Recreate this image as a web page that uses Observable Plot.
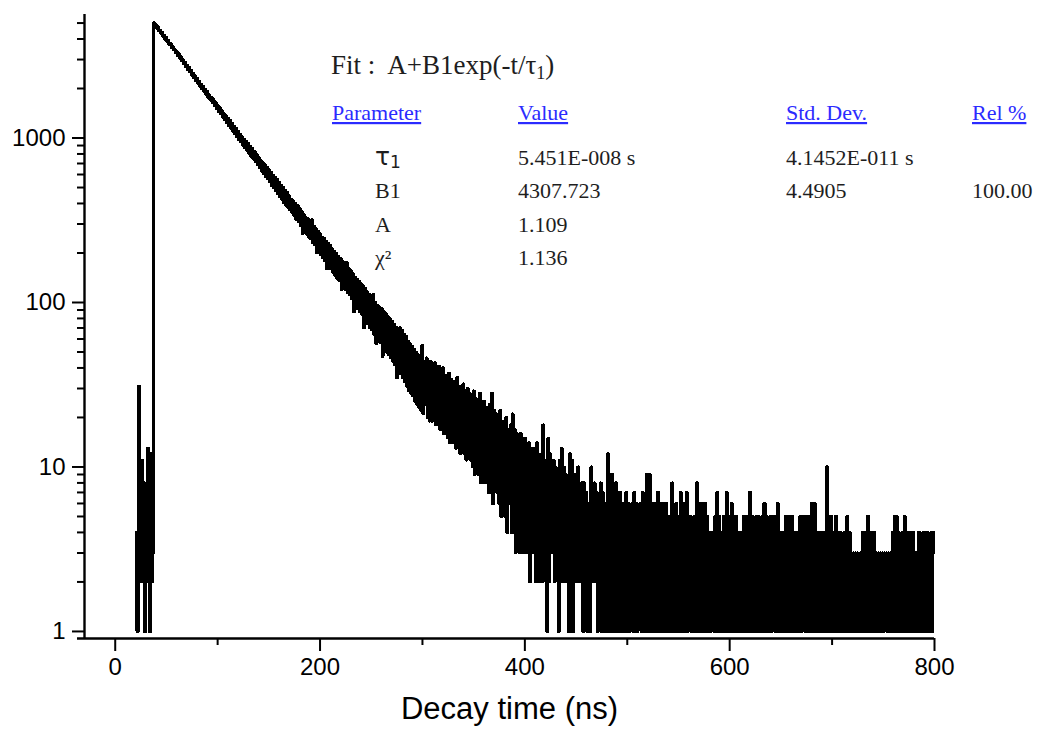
<!DOCTYPE html>
<html>
<head>
<meta charset="utf-8">
<script src="https://cdn.jsdelivr.net/npm/d3@7"></script>
<script src="https://cdn.jsdelivr.net/npm/@observablehq/plot@0.6"></script>
<style>
  html, body { margin: 0; padding: 0; background: #fff; }
  #chart { width: 1038px; height: 738px; }
</style>
</head>
<body>
<div id="chart"></div>
<script>
// ---- data (photon counts per 1 ns channel) ----
const channelStartNs = 20;
const channelWidthNs = 1;

// t = 20 .. 37 ns (before the excitation rise)
const countsRise = [1, 4, 1, 31, 10, 2, 11, 3, 8, 1, 6, 2, 13, 2, 1, 12, 2, 3];

// t = 38 .. 297 ns
const countsDecay = [
  5010, 4850, 4880, 4660, 4740, 4470, 4520, 4310, 4390, 4150,
  4190, 3980, 4070, 3850, 3900, 3690, 3770, 3550, 3620, 3430,
  3450, 3310, 3360, 3180, 3260, 3060, 3120, 2940, 2990, 2830,
  2880, 2720, 2770, 2610, 2680, 2520, 2570, 2410, 2480, 2330,
  2390, 2240, 2310, 2150, 2210, 2060, 2130, 1990, 2060, 1920,
  1980, 1840, 1910, 1760, 1830, 1700, 1770, 1640, 1710, 1580,
  1650, 1510, 1580, 1450, 1530, 1400, 1470, 1340, 1410, 1290,
  1370, 1240, 1320, 1190, 1280, 1150, 1230, 1100, 1180, 1060,
  1140, 1020, 1100, 975, 1050, 945, 1015, 905, 985, 870,
  950, 840, 925, 800, 890, 770, 860, 745, 830, 715,
  800, 690, 760, 660, 735, 630, 710, 605, 690, 585,
  665, 565, 640, 545, 620, 515, 595, 500, 575, 480,
  560, 460, 540, 440, 515, 425, 500, 405, 480, 390,
  465, 380, 445, 365, 425, 350, 415, 335, 400, 320,
  390, 310, 375, 295, 360, 262, 345, 270, 330, 260,
  325, 250, 310, 245, 318, 230, 290, 225, 280, 200,
  270, 205, 262, 195, 250, 188, 245, 180, 236, 160,
  228, 165, 222, 160, 212, 152, 205, 146, 198, 140,
  190, 136, 185, 120, 178, 125, 172, 120, 175, 115,
  160, 112, 156, 106, 150, 88, 142, 96, 138, 92,
  134, 88, 130, 85, 126, 70, 122, 78, 116, 74,
  112, 70, 108, 68, 112, 64, 100, 56, 96, 60,
  94, 57, 92, 47, 88, 53, 86, 50, 82, 48,
  80, 46, 77, 44, 74, 42, 71, 35, 68, 38,
  70, 37, 68, 35, 64, 33, 62, 31, 58, 29,
  56, 28, 54, 27, 52, 25, 50, 24, 48, 23
];

// t = 298 .. 800 ns
const countsTail = [
  48, 22, 55, 21, 44, 24, 46, 20, 42, 19,
  44, 19, 40, 21, 43, 18, 38, 20, 41, 17,
  38, 17, 40, 16, 36, 19, 35, 15, 37, 14,
  34, 16, 33, 14, 32, 13, 35, 15, 31, 12,
  30, 13, 32, 12, 29, 11, 30, 14, 28, 11,
  27, 10, 29, 9, 26, 12, 25, 9, 28, 8,
  24, 10, 25, 8, 23, 9, 22, 7, 24, 8,
  28, 6, 22, 8, 21, 7, 20, 6, 22, 5,
  19, 6, 18, 5, 20, 4, 17, 6, 18, 4,
  21, 4, 17, 3, 16, 5, 15, 3, 16, 4,
  14, 3, 15, 4, 13, 3, 14, 2, 12, 3,
  13, 3, 12, 2, 14, 2, 11, 3, 12, 2,
  18, 3, 11, 2, 1, 15, 2, 12, 3, 10,
  11, 2, 10, 3, 9, 1, 11, 2, 13, 3,
  10, 2, 9, 3, 8, 1, 12, 2, 11, 1,
  9, 2, 8, 3, 10, 2, 7, 3, 8, 1,
  8, 2, 7, 1, 6, 2, 1, 10, 2, 7,
  8, 2, 7, 1, 6, 2, 8, 1, 7, 1,
  6, 1, 5, 12, 1, 7, 1, 9, 1, 6,
  1, 8, 1, 6, 2, 7, 1, 5, 1, 6,
  1, 7, 1, 6, 1, 5, 2, 6, 1, 7,
  1, 6, 1, 5, 2, 6, 1, 7, 1, 5,
  1, 9, 1, 6, 9, 1, 5, 1, 6, 1,
  5, 1, 7, 1, 5, 1, 6, 1, 5, 1,
  6, 1, 5, 1, 4, 1, 8, 1, 5, 1,
  6, 1, 5, 1, 7, 1, 5, 1, 6, 1,
  7, 1, 5, 2, 5, 1, 4, 1, 5, 1,
  8, 1, 5, 1, 6, 1, 4, 1, 6, 1,
  5, 1, 4, 1, 4, 2, 4, 1, 5, 1,
  7, 1, 5, 1, 4, 1, 5, 1, 3, 7,
  1, 5, 1, 4, 6, 1, 5, 1, 5, 1,
  4, 1, 4, 2, 4, 1, 5, 1, 3, 1,
  5, 1, 7, 1, 5, 1, 4, 1, 5, 1,
  5, 1, 4, 1, 5, 1, 6, 1, 5, 1,
  4, 1, 5, 1, 5, 2, 5, 1, 4, 6,
  1, 4, 1, 4, 1, 4, 2, 5, 1, 4,
  1, 5, 1, 5, 1, 4, 1, 4, 1, 4,
  1, 5, 1, 5, 2, 5, 1, 5, 1, 5,
  1, 5, 6, 1, 5, 6, 1, 4, 1, 4,
  1, 4, 1, 3, 4, 1, 3, 10, 1, 3,
  1, 5, 1, 4, 1, 4, 5, 1, 4, 1,
  4, 1, 3, 1, 4, 1, 2, 5, 1, 4,
  1, 3, 1, 3, 1, 3, 1, 3, 2, 1,
  3, 1, 4, 1, 3, 4, 1, 5, 1, 3,
  1, 4, 1, 4, 1, 3, 1, 3, 1, 3,
  1, 3, 1, 3, 2, 3, 1, 3, 1, 3,
  1, 4, 1, 5, 1, 5, 1, 4, 1, 3,
  1, 4, 1, 5, 1, 3, 1, 4, 1, 3,
  1, 4, 1, 3, 1, 3, 1, 4, 1, 3,
  1, 4, 1, 4, 1, 4, 1, 3, 1, 4,
  1, 3, 4
];

// axes
const xDomain = [-30, 800];
const yDomain = [0.906, 5636];
const xMajorTicks = [0, 200, 400, 600, 800];
const xMinorTicks = [100, 300, 500, 700];
const yMajorTicks = [1, 10, 100, 1000];
const yMinorTicks = [2, 3, 4, 5, 6, 7, 8, 9, 20, 30, 40, 50, 60, 70, 80, 90,
  200, 300, 400, 500, 600, 700, 800, 900, 2000, 3000, 4000, 5000];
const xLabel = "Decay time (ns)";

// fit report
const fitTitle = "Fit :  A+B1exp(-t/τ";
const fitHeaders = ["Parameter", "Value", "Std. Dev.", "Rel %"];
const paramNames = ["τ", "B1", "A", "χ²"];
const paramValues = ["5.451E-008 s", "4307.723", "1.109", "1.136"];
const paramStdDev = ["4.1452E-011 s", "4.4905", "", ""];
const paramRel = ["", "100.00", "", ""];

// ---- build ----
const counts = [...countsRise, ...countsDecay, ...countsTail];
const data = counts.map((c, i) => ({ t: channelStartNs + i * channelWidthNs, c }));
const noLabel = () => "";

const chart = Plot.plot({
  width: 1038,
  height: 738,
  marginTop: 14,
  marginBottom: 100,
  marginLeft: 84,
  marginRight: 104,
  x: { domain: xDomain, axis: null },
  y: { type: "log", domain: yDomain, axis: null },
  style: { background: "white", color: "black", fontFamily: "'Liberation Sans', Arial, sans-serif" },
  marks: [
    Plot.line(data, { x: "t", y: "c", stroke: "black", strokeWidth: 3, curve: "step", strokeLinejoin: "round", strokeLinecap: "butt", shapeRendering: "crispEdges" }),
    Plot.ruleX([xDomain[0]], { stroke: "black", strokeWidth: 2.4 }),
    Plot.ruleY([yDomain[0]], { stroke: "black", strokeWidth: 2.4, insetLeft: -7 }),
    Plot.axisY(yMajorTicks, { tickSize: 12, tickPadding: 7, strokeWidth: 2, fontSize: 24, fill: "black", tickFormat: d => String(d), label: null }),
    Plot.axisY(yMinorTicks, { tickSize: 7, strokeWidth: 2, tickFormat: noLabel, label: null }),
    Plot.axisX(xMajorTicks, { tickSize: 13, tickPadding: 6, strokeWidth: 2, fontSize: 24, fill: "black", tickFormat: d => String(d), label: null }),
    Plot.axisX(xMinorTicks, { tickSize: 7, strokeWidth: 2, tickFormat: noLabel, label: null }),
    Plot.text([xLabel], { frameAnchor: "bottom", dy: 80, fontSize: 31, fill: "black" })
  ]
});
document.getElementById("chart").appendChild(chart);

// ---- fit report annotation ----
const svg = d3.select(chart);
const ann = svg.append("g")
  .attr("font-family", "'Liberation Serif', 'Times New Roman', serif")
  .attr("text-anchor", "start")
  .attr("fill", "#1e1e1e");

const fit = ann.append("text").attr("x", 331).attr("y", 74).attr("font-size", 27).style("white-space", "pre");
fit.append("tspan").text(fitTitle);
fit.append("tspan").attr("font-size", 18).attr("dy", 5).text("1");
fit.append("tspan").attr("dy", -5).text(")");

const colX = [332, 518, 786, 972];
fitHeaders.forEach((h, i) => {
  ann.append("text").attr("x", colX[i]).attr("y", 120).attr("font-size", 22)
    .attr("fill", "#2b2bff").style("text-decoration", "underline").text(h);
});

const rowY = [165, 198, 232, 265];
paramNames.forEach((p, i) => {
  const t = ann.append("text").attr("x", 375).attr("y", rowY[i]).attr("font-size", 22);
  if (i === 0) {
    t.append("tspan").attr("font-size", 25).attr("font-family", "'DejaVu Sans', sans-serif").text(p);
    t.append("tspan").attr("font-size", 17).attr("dy", 3).attr("font-family", "'DejaVu Sans', sans-serif").text("1");
  } else {
    t.text(p);
  }
  ann.append("text").attr("x", 518).attr("y", rowY[i]).attr("font-size", 22).text(paramValues[i]);
  if (paramStdDev[i]) ann.append("text").attr("x", 786).attr("y", rowY[i]).attr("font-size", 22).text(paramStdDev[i]);
  if (paramRel[i]) ann.append("text").attr("x", 972).attr("y", rowY[i]).attr("font-size", 22).text(paramRel[i]);
});
</script>
</body>
</html>
